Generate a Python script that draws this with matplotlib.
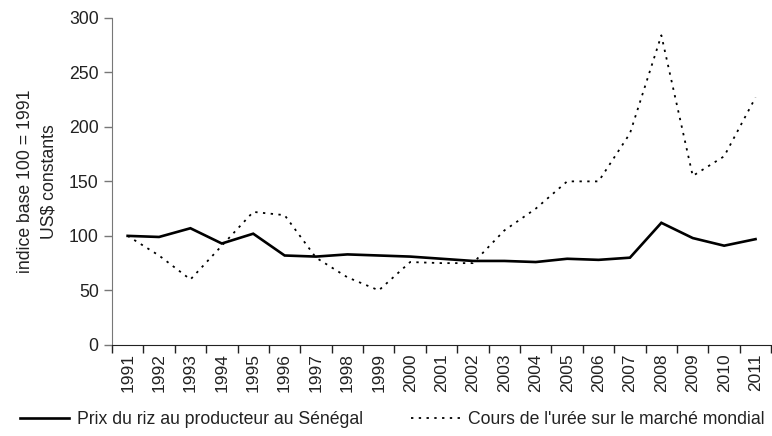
import matplotlib.pyplot as plt

plt.rcParams['font.family'] = ['Liberation Sans', 'DejaVu Sans']

years = [str(y) for y in range(1991, 2012)]
riz = [100, 99, 107, 93, 102, 82, 81, 83, 82, 81, 79, 77, 77, 76, 79, 78, 80, 112, 98, 91, 97]
uree = [100, 82, 60, 91, 122, 119, 80, 62, 50, 76, 75, 75, 105, 125, 150, 150, 194, 284, 155, 173, 227]

fig = plt.figure(figsize=(7.72, 4.36), dpi=100)
ax = fig.add_axes([0.145, 0.209, 0.854, 0.75])

x = range(len(years))
l1, = ax.plot(x, riz, color='black', lw=1.9, solid_joinstyle='miter',
              label='Prix du riz au producteur au Sénégal')
l2, = ax.plot(x, uree, color='black', lw=1.3, linestyle=(0, (1.3, 3.0)),
              label="Cours de l'urée sur le marché mondial")

ax.set_xlim(-0.5, len(years) - 0.5)
ax.set_ylim(0, 300)
ax.set_yticks(range(0, 301, 50))
ax.set_xticks(x)
ax.set_xticklabels(years, rotation=90)
ax.set_xticks([i - 0.5 for i in range(len(years) + 1)], minor=True)
ax.tick_params(axis='x', which='major', length=0, pad=6, labelsize=12.5, colors='#222222')
ax.tick_params(axis='x', which='minor', length=6, width=1, color='#222222')
ax.tick_params(axis='y', length=6, width=1, labelsize=12.7, colors='#222222', color='#777777')

for s in ['top', 'right']:
    ax.spines[s].set_visible(False)
ax.spines['left'].set_color('#777777')
ax.spines['bottom'].set_color('#222222')

ax.set_ylabel('indice base 100 = 1991\nUS$ constants', fontsize=12.7, color='#222222',
              labelpad=8, linespacing=1.5)

fig.legend(handles=[l1, l2], loc='lower left', bbox_to_anchor=(20 / 772, 8 / 436),
           ncol=2, frameon=False, fontsize=12.7, handlelength=2.8, handletextpad=0.45,
           columnspacing=2.7, borderpad=0, borderaxespad=0, labelcolor='#222222')

fig.savefig('out.png', dpi=100)
